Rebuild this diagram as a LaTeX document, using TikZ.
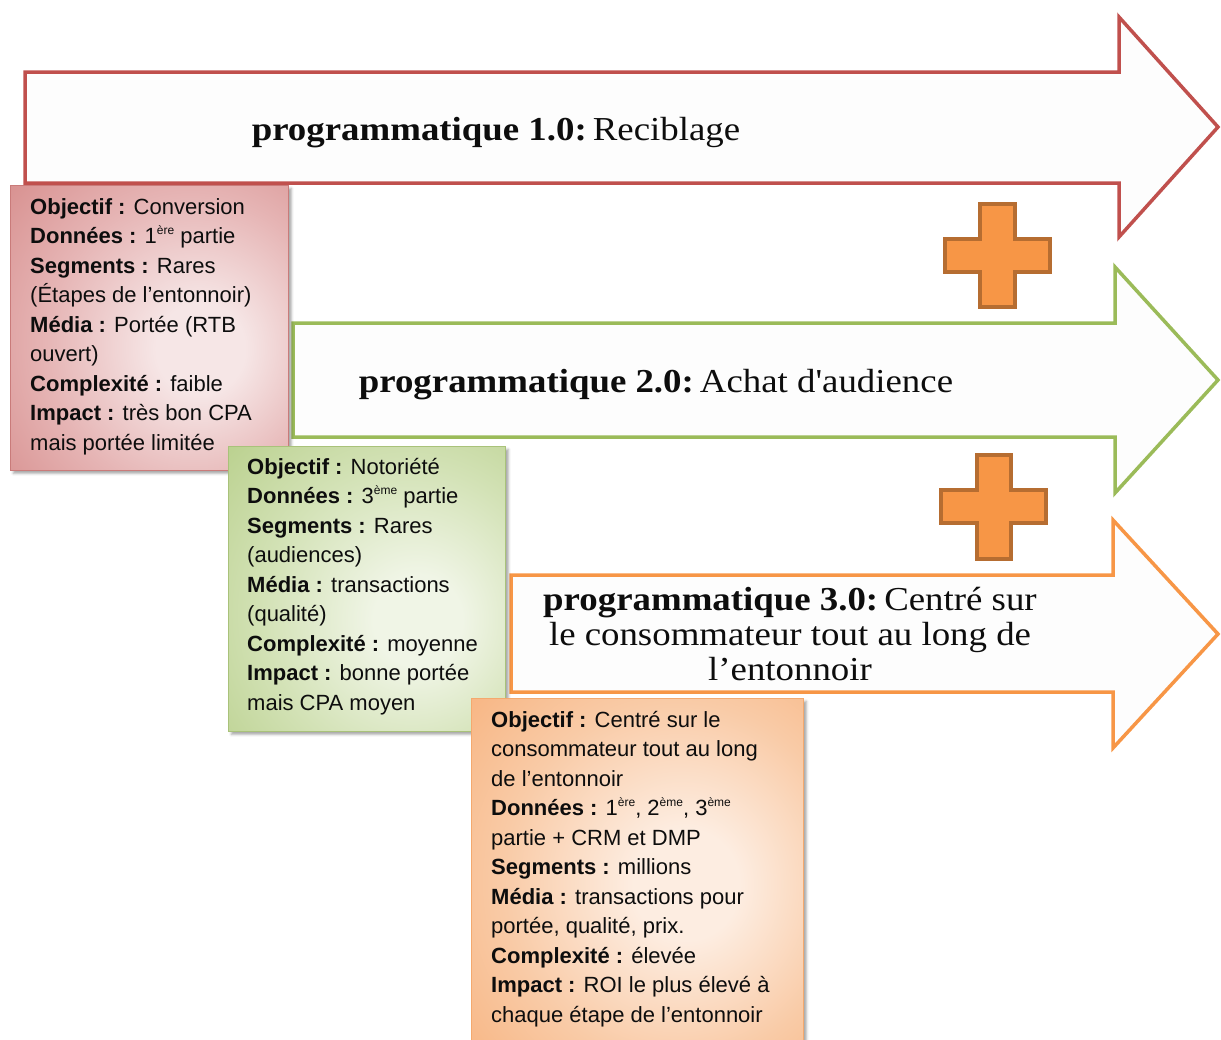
\documentclass[tikz,border=0pt]{standalone}
\usepackage{fontspec}
\setmainfont{Liberation Sans}
\newfontfamily\titlefont{Liberation Serif}[Ligatures=TeXOff, FakeStretch=1.1]
\usetikzlibrary{shadows.blur}

\definecolor{redline}{HTML}{C0504D}
\definecolor{greenline}{HTML}{9BBB59}
\definecolor{orangeline}{HTML}{F79646}
\definecolor{arrowfill}{HTML}{FDFDFD}
\definecolor{plusfill}{HTML}{F79646}
\definecolor{plusline}{HTML}{B66D31}
\definecolor{textdark}{HTML}{0D0D0D}
\definecolor{redout}{HTML}{D48786}
\definecolor{redmid}{HTML}{E6B5B5}
\definecolor{redin}{HTML}{F6E6E6}
\definecolor{rededge}{HTML}{C97B7A}
\definecolor{greenout}{HTML}{B5CD86}
\definecolor{greenmid}{HTML}{D3E2B6}
\definecolor{greenin}{HTML}{F0F5E6}
\definecolor{greenedge}{HTML}{A9C27A}
\definecolor{orangeout}{HTML}{F7AD75}
\definecolor{orangemid}{HTML}{F9CBA7}
\definecolor{orangein}{HTML}{FDEDE1}
\definecolor{orangeedge}{HTML}{F4A96E}

% soft glows for the detail boxes, lightest slightly right of centre
\pgfdeclareradialshading{redglow}{\pgfpoint{10bp}{-4bp}}{%
  color(0bp)=(redin); color(8bp)=(redin); color(26bp)=(redmid);
  color(46bp)=(redout); color(100bp)=(redout)}
\pgfdeclareradialshading{greenglow}{\pgfpoint{10bp}{-6bp}}{%
  color(0bp)=(greenin); color(8bp)=(greenin); color(26bp)=(greenmid);
  color(46bp)=(greenout); color(100bp)=(greenout)}
\pgfdeclareradialshading{orangeglow}{\pgfpoint{8bp}{-2bp}}{%
  color(0bp)=(orangein); color(8bp)=(orangein); color(26bp)=(orangemid);
  color(46bp)=(orangeout); color(100bp)=(orangeout)}

\newcommand\supx[1]{\raisebox{0.42em}{\fontsize{12}{12}\selectfont #1}}
\newcommand\tgap{\hspace{0.18em}}

\tikzset{
  flow/.style={line width=3.5pt, fill=arrowfill, line join=miter},
  plusmark/.style={fill=plusfill, draw=plusline, line width=3.5pt},
  infobox/.style={rectangle, inner sep=0pt, anchor=north west, line width=0.8pt,
    blur shadow={shadow xshift=3pt, shadow yshift=-3pt, shadow blur radius=2.5pt, shadow opacity=35}},
  infotext/.style={anchor=north west, align=left, inner sep=0pt,
    font=\fontsize{22}{29.5}\selectfont, text=textdark},
  heading/.style={font=\titlefont\fontsize{33.5}{35}\selectfont, inner sep=0pt, text=textdark, align=center}
}

\begin{document}
\begin{tikzpicture}[x=1pt, y=-1pt]
\useasboundingbox (0,0) rectangle (1221,1039);

% the three stage arrows
\draw[flow, draw=redline] (25,72) -- (1119,72) -- (1119,17) -- (1218,127)
  -- (1119,237) -- (1119,183) -- (25,183) -- cycle;
\draw[flow, draw=greenline] (293,323) -- (1115,323) -- (1115,267) -- (1218,380)
  -- (1115,493) -- (1115,437) -- (293,437) -- cycle;
\draw[flow, draw=orangeline] (511,575) -- (1113,575) -- (1113,520) -- (1218,634)
  -- (1113,748) -- (1113,692) -- (511,692) -- cycle;

% plus signs between the stages
\draw[plusmark] (980,204) -- (1015,204) -- (1015,239) -- (1050,239) -- (1050,272)
  -- (1015,272) -- (1015,307) -- (980,307) -- (980,272) -- (945,272) -- (945,239)
  -- (980,239) -- cycle;
\draw[plusmark] (977,455) -- (1011,455) -- (1011,490) -- (1046,490) -- (1046,523)
  -- (1011,523) -- (1011,559) -- (977,559) -- (977,523) -- (941,523) -- (941,490)
  -- (977,490) -- cycle;

% stage titles
\node[heading, anchor=base] (t1) at (496,140)
  {{\bfseries programmatique 1.0:}\tgap Reciblage};
\node[heading, anchor=base] (t2) at (656,392)
  {{\bfseries programmatique 2.0:}\tgap Achat d'audience};
\node[heading, anchor=north] (t3) at (790,587)
  {{\bfseries programmatique 3.0:}\tgap Centré sur\\
   le consommateur tout au long de\\
   l’entonnoir};

% detail boxes
\node[infobox, draw=rededge, shading=redglow,
  minimum width=278pt, minimum height=285pt] (b1) at (10,185) {};
\node[infotext] (d1) at (30,198) {%
  \textbf{Objectif :} Conversion\\
  \textbf{Données :} 1\supx{ère} partie\\
  \textbf{Segments :} Rares\\
  (Étapes de l’entonnoir)\\
  \textbf{Média :} Portée (RTB\\
  ouvert)\\
  \textbf{Complexité :} faible\\
  \textbf{Impact :} très bon CPA\\
  mais portée limitée};

\node[infobox, draw=greenedge, shading=greenglow,
  minimum width=277pt, minimum height=285pt] (b2) at (228,446) {};
\node[infotext] (d2) at (247,458) {%
  \textbf{Objectif :} Notoriété\\
  \textbf{Données :} 3\supx{ème} partie\\
  \textbf{Segments :} Rares\\
  (audiences)\\
  \textbf{Média :} transactions\\
  (qualité)\\
  \textbf{Complexité :} moyenne\\
  \textbf{Impact :} bonne portée\\
  mais CPA moyen};

\node[infobox, draw=orangeedge, shading=orangeglow,
  minimum width=332pt, minimum height=347pt] (b3) at (471,698) {};
\node[infotext] (d3) at (491,711) {%
  \textbf{Objectif :} Centré sur le\\
  consommateur tout au long\\
  de l’entonnoir\\
  \textbf{Données :} 1\supx{ère}, 2\supx{ème}, 3\supx{ème}\\
  partie + CRM et DMP\\
  \textbf{Segments :} millions\\
  \textbf{Média :} transactions pour\\
  portée, qualité, prix.\\
  \textbf{Complexité :} élevée\\
  \textbf{Impact :} ROI le plus élevé à\\
  chaque étape de l’entonnoir};
\end{tikzpicture}
\end{document}
